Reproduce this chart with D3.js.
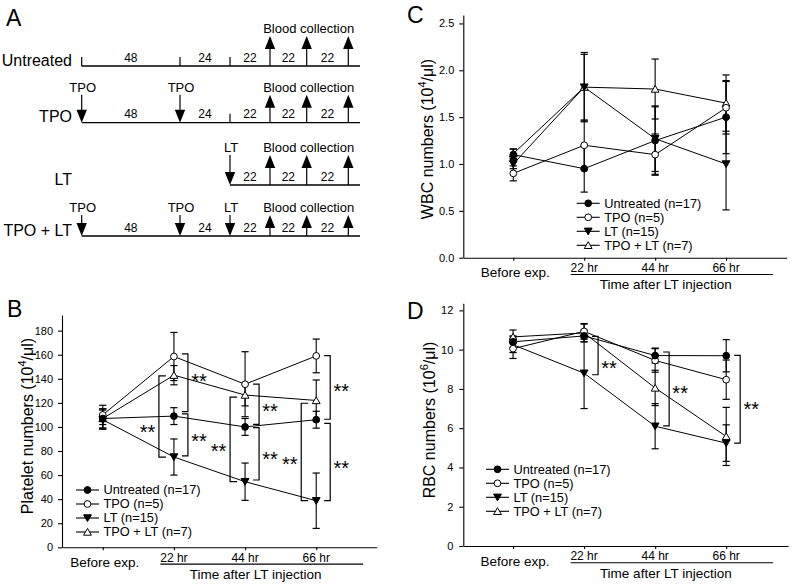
<!DOCTYPE html>
<html><head><meta charset="utf-8">
<script src="https://cdn.jsdelivr.net/npm/d3@7"></script>
<style>
body{margin:0;background:#fff}
svg{display:block}
text{font-family:"Liberation Sans",Arial,Helvetica,sans-serif;fill:#000}
</style>
</head><body>
<svg id="fig" width="793" height="584"></svg>
<script>
// ---------------- DATA ----------------
const categories = ["Before exp.", "22 hr", "44 hr", "66 hr"];
const groups = ["Untreated (n=17)", "TPO (n=5)", "LT (n=15)", "TPO + LT (n=7)"];
const groupMarkers = ["filledCircle", "openCircle", "filledDown", "openUp"];
const xAxisTitle = "Time after LT injection";

// Panel B: platelets (10^4/ul)
const plateletMeans = [
  [107, 109, 100, 106],
  [110, 158.5, 135.5, 159],
  [106, 75, 54.5, 38.7],
  [107, 143, 126.5, 122]
];
const plateletErrors = [
  [8, 7, 7, 7],
  [8, 20, 27, 14],
  [8, 15, 15.5, 23],
  [8, 8, 9, 17]
];
const plateletTicks = [0, 20, 40, 60, 80, 100, 120, 140, 160, 180];
// [category, side, from value, to value, label value]
const plateletBrackets = [
  [1, "R", 160.7, 112.7, 141.8],
  [1, "L", 142.4, 75, 99.2],
  [1, "R", 110.8, 75.9, 91.7],
  [2, "R", 135.5, 102.2, 116.9],
  [2, "L", 124.7, 54.5, 83.6],
  [2, "R", 99.4, 55.9, 77.1],
  [3, "R", 159.3, 106.4, 133.5],
  [3, "L", 119.7, 38.7, 72.6],
  [3, "R", 103, 38.7, 69.8]
];

// Panel C: WBC (10^4/ul)
const wbcMeans = [
  [1.1, 0.95, 1.25, 1.5],
  [0.9, 1.2, 1.1, 1.6],
  [1.0, 1.82, 1.27, 1.0],
  [1.11, 1.82, 1.8, 1.65]
];
const wbcErrors = [
  [0.06, 0.25, 0.36, 0.39],
  [0.08, 0.26, 0.22, 0.28],
  [0.05, 0.35, 0.35, 0.49],
  [0.05, 0.37, 0.32, 0.30]
];
const wbcTicks = [0, 0.5, 1.0, 1.5, 2.0, 2.5];

// Panel D: RBC (10^6/ul)
const rbcMeans = [
  [10.4, 10.7, 9.7, 9.69],
  [10.05, 10.93, 9.45, 8.47],
  [10.25, 8.8, 6.1, 5.24],
  [10.65, 10.85, 8.05, 5.58]
];
const rbcErrors = [
  [0.3, 0.3, 0.38, 0.82],
  [0.5, 0.4, 0.6, 1.0],
  [0.4, 1.8, 1.15, 0.93],
  [0.35, 0.45, 0.9, 1.48]
];
const rbcTicks = [0, 2, 4, 6, 8, 10, 12];
const rbcBrackets = [
  [1, "R", 10.68, 8.72, 9.29],
  [2, "R", 9.88, 6.12, 8.0],
  [3, "R", 9.71, 5.24, 7.19]
];

// Panel A: schedule
const timelineEventHours = [0, 48, 72, 94, 116, 138];
const timelineEndHour = 142;
const timelineRows = ["Untreated", "TPO", "LT", "TPO + LT"];
const rowStartHours = [0, 0, 72, 0];
const rowInjectionHours = [[], [0, 48], [72], [0, 48, 72]];
const rowInjectionLabels = [[], ["TPO", "TPO"], ["LT"], ["TPO", "TPO", "LT"]];
const rowTickHours = [[0, 48, 72], [72], [], []];
const bloodCollectionHours = [94, 116, 138];
const bloodCollectionLabel = "Blood collection";

// ---------------- DRAW ----------------
const svg = d3.select("#fig");

function markerPath(type) {
  if (type === "filledDown") return "M-3.9,-3.2L3.9,-3.2L0,3.6Z";
  if (type === "openUp") return "M-3.9,3.2L3.9,3.2L0,-3.6Z";
  return d3.symbol(d3.symbolCircle, 36)();
}
function markerFill(type) {
  return (type === "openCircle" || type === "openUp") ? "#fff" : "#000";
}

function drawPanel(p) {
  const g = svg.append("g");
  const x = d3.scaleLinear().domain(p.xDomain).range(p.xRange);
  const y = d3.scaleLinear().domain(p.yDomain).range(p.yRange);
  const y0 = p.yRange[0];

  // y axis
  const ya = d3.axisLeft(y).tickValues(p.yTicks).tickFormat(p.yFormat)
    .tickSize(4).tickPadding(p.tickPad).tickSizeOuter(0);
  const yg = g.append("g").attr("transform", `translate(${p.xRange[0]},0)`).call(ya);
  yg.selectAll("text").attr("font-size", 11).attr("font-family", null);
  yg.selectAll("path,line").attr("stroke-width", 1.1);

  // x axis
  const xa = d3.axisBottom(x).tickValues(d3.range(categories.length))
    .tickFormat(() => "").tickSize(3).tickSizeOuter(0);
  const xg = g.append("g").attr("transform", `translate(0,${y0})`).call(xa);
  xg.selectAll("path,line").attr("stroke-width", 1.1);

  // category labels
  g.selectAll("text.cat").data(categories).join("text").attr("class", "cat")
    .attr("x", (d, i) => x(i) + (i === 0 ? 2 : 0))
    .attr("y", (d, i) => y0 + (i === 0 ? 19.5 : 14.3))
    .attr("text-anchor", "middle")
    .attr("font-size", (d, i) => i === 0 ? 13.5 : 12)
    .text(d => d);
  g.append("line").attr("x1", x(0.81)).attr("x2", x(3.66))
    .attr("y1", y0 + 16.8).attr("y2", y0 + 16.8).attr("stroke", "#000").attr("stroke-width", 1.1);
  g.append("text").attr("x", x(2.15)).attr("y", y0 + 31.5).attr("text-anchor", "middle")
    .attr("font-size", 13.5).text(xAxisTitle);

  // y label
  const yl = g.append("text").attr("transform", `translate(${p.ylabel.x},${p.ylabel.y}) rotate(-90)`)
    .attr("text-anchor", "middle").attr("font-size", 16);
  yl.append("tspan").text(p.ylabel.parts[0]);
  yl.append("tspan").attr("font-size", 11).attr("dy", -7).text(p.ylabel.parts[1]);
  yl.append("tspan").attr("dy", 7).text(p.ylabel.parts[2]);

  // panel letter
  g.append("text").attr("x", p.letter.x).attr("y", p.letter.y).attr("font-size", 23).text(p.letter.t);

  // lines
  const line = d3.line().x((d, i) => x(i)).y(d => y(d));
  p.means.forEach((m) => {
    g.append("path").attr("d", line(m)).attr("fill", "none").attr("stroke", "#000").attr("stroke-width", 1);
  });

  // error bars
  p.means.forEach((m, s) => {
    m.forEach((v, i) => {
      const e = p.errors[s][i];
      const cx = x(i);
      g.append("line").attr("x1", cx).attr("x2", cx).attr("y1", y(v - e)).attr("y2", y(v + e))
        .attr("stroke", "#000").attr("stroke-width", 1.1);
      [v - e, v + e].forEach(t => {
        g.append("line").attr("x1", cx - 3.6).attr("x2", cx + 3.6).attr("y1", y(t)).attr("y2", y(t))
          .attr("stroke", "#000").attr("stroke-width", 1.2);
      });
    });
  });

  // markers
  [3, 2, 1, 0].forEach(s => {
    p.means[s].forEach((v, i) => {
      g.append("path").attr("d", markerPath(groupMarkers[s]))
        .attr("transform", `translate(${x(i)},${y(v)})`)
        .attr("fill", markerFill(groupMarkers[s])).attr("stroke", "#000").attr("stroke-width", 1);
    });
  });

  // significance brackets
  (p.brackets || []).forEach(b => {
    const [cat, side, v1, v2, lv] = b;
    const cx = x(cat);
    let path, tx;
    if (side === "R") {
      const a = cx + 8, c = cx + 14;
      path = `M${a},${y(v1)}H${c}V${y(v2)}H${a}`;
      tx = c + 11;
    } else {
      const a = cx - 15, c = cx - 8;
      path = `M${c},${y(v1)}H${a}V${y(v2)}H${c}`;
      tx = a - 11.5;
    }
    g.append("path").attr("d", path).attr("fill", "none").attr("stroke", "#000").attr("stroke-width", 1.2);
    g.append("text").attr("x", tx).attr("y", y(lv) + 11.3).attr("text-anchor", "middle")
      .attr("font-size", 20).text("**");
  });

  // legend
  groups.forEach((name, s) => {
    const ly = p.legend.y + s * 14;
    g.append("line").attr("x1", p.legend.x).attr("x2", p.legend.x + 23).attr("y1", ly).attr("y2", ly)
      .attr("stroke", "#000").attr("stroke-width", 1.1);
    g.append("path").attr("d", markerPath(groupMarkers[s]))
      .attr("transform", `translate(${p.legend.x + 11.5},${ly})`)
      .attr("fill", markerFill(groupMarkers[s])).attr("stroke", "#000").attr("stroke-width", 1);
    g.append("text").attr("x", p.legend.x + 27.5).attr("y", ly).attr("dy", "0.35em")
      .attr("font-size", 12.8).text(name);
  });
}

drawPanel({
  xDomain: [-0.573, 3.85], xRange: [62, 376.7],
  yDomain: [0, 193], yRange: [547.3, 315],
  yTicks: plateletTicks, yFormat: d3.format("d"), tickPad: 5,
  means: plateletMeans, errors: plateletErrors, brackets: plateletBrackets,
  legend: { x: 76, y: 490 },
  ylabel: { x: 33, y: 426, parts: ["Platelet numbers (10", "4", "/\u03BCl)"] },
  letter: { x: 7, y: 317.3, t: "B" }
});
drawPanel({
  xDomain: [-0.705, 3.855], xRange: [463.3, 786.7],
  yDomain: [0, 2.59], yRange: [257.7, 15],
  yTicks: wbcTicks, yFormat: d3.format(".1f"), tickPad: 5,
  means: wbcMeans, errors: wbcErrors, brackets: [],
  legend: { x: 576.7, y: 203.3 },
  ylabel: { x: 433, y: 139, parts: ["WBC numbers (10", "4", "/\u03BCl)"] },
  letter: { x: 407, y: 23.3, t: "C" }
});
drawPanel({
  xDomain: [-0.7, 3.87], xRange: [463.3, 788],
  yDomain: [0, 12.36], yRange: [546, 303.3],
  yTicks: rbcTicks, yFormat: d3.format("d"), tickPad: 6,
  means: rbcMeans, errors: rbcErrors, brackets: rbcBrackets,
  legend: { x: 486, y: 469.3 },
  ylabel: { x: 435, y: 420, parts: ["RBC numbers (10", "6", "/\u03BCl)"] },
  letter: { x: 407, y: 319.3, t: "D" }
});

// ---------------- PANEL A ----------------
(function () {
  const g = svg.append("g");
  const t = d3.scaleLinear()
    .domain([...timelineEventHours, timelineEndHour])
    .range([81.7, 180, 230, 270, 306.7, 348.3, 360]);
  const rowLineY = [66, 122.7, 185, 236];
  const rowArrowLen = [30, 28, 30, 21];
  const head = 13, hw = 5.2;

  g.append("text").attr("x", 6).attr("y", 26).attr("font-size", 23).text("A");

  timelineRows.forEach((name, r) => {
    const ly = rowLineY[r], len = rowArrowLen[r];
    g.append("text").attr("x", 72).attr("y", ly - 0.5).attr("text-anchor", "end")
      .attr("font-size", 16).text(name);
    g.append("line").attr("x1", t(rowStartHours[r])).attr("x2", t(timelineEndHour))
      .attr("y1", ly).attr("y2", ly).attr("stroke", "#000").attr("stroke-width", 1.3);
    rowTickHours[r].forEach(h => {
      g.append("line").attr("x1", t(h)).attr("x2", t(h)).attr("y1", ly).attr("y2", ly - 9)
        .attr("stroke", "#000").attr("stroke-width", 1.2);
    });
    rowInjectionHours[r].forEach((h, k) => {
      const ax = t(h);
      g.append("line").attr("x1", ax).attr("x2", ax).attr("y1", ly - len).attr("y2", ly - head + 1)
        .attr("stroke", "#000").attr("stroke-width", 1.2);
      g.append("path").attr("d", `M${ax - hw},${ly - head}L${ax + hw},${ly - head}L${ax},${ly}Z`).attr("fill", "#000");
      g.append("text").attr("x", ax + 1).attr("y", ly - len - 3).attr("text-anchor", "middle")
        .attr("font-size", 13).text(rowInjectionLabels[r][k]);
    });
    bloodCollectionHours.forEach(h => {
      const ax = t(h);
      g.append("line").attr("x1", ax).attr("x2", ax).attr("y1", ly).attr("y2", ly - len + head - 1)
        .attr("stroke", "#000").attr("stroke-width", 1.2);
      g.append("path").attr("d", `M${ax - hw},${ly - len + head}L${ax + hw},${ly - len + head}L${ax},${ly - len}Z`).attr("fill", "#000");
    });
    g.append("text").attr("x", t(116) + 2).attr("y", ly - len - 3).attr("text-anchor", "middle")
      .attr("font-size", 13).text(bloodCollectionLabel);
    const ev = timelineEventHours.filter(h => h >= rowStartHours[r]);
    for (let k = 0; k < ev.length - 1; k++) {
      g.append("text").attr("x", (t(ev[k]) + t(ev[k + 1])) / 2).attr("y", ly - 4.5)
        .attr("text-anchor", "middle").attr("font-size", 12).text(ev[k + 1] - ev[k]);
    }
  });
})();
</script>
</body></html>
